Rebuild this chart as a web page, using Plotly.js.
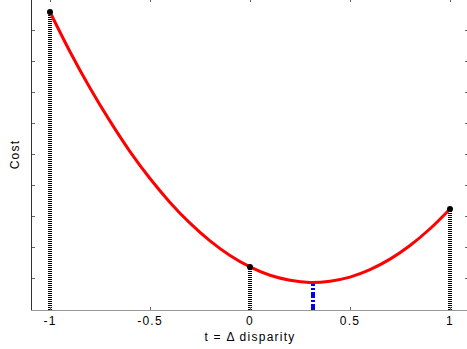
<!DOCTYPE html>
<html>
<head>
<meta charset="utf-8">
<script src="https://cdn.plot.ly/plotly-3.0.1.min.js"></script>
<style>
html,body{margin:0;padding:0;overflow:hidden;background:#fff;width:467px;height:349px;}
#chart{position:absolute;left:0;top:-3px;width:472px;height:352px;}
#chart text{letter-spacing:1.25px;}
</style>
</head>
<body>
<div id="chart"></div>
<script>
// Curve samples
var tVals = [-1, -0.9, -0.8, -0.7, -0.6, -0.5, -0.4, -0.3, -0.2, -0.1, 0, 0.1, 0.2, 0.3, 0.4, 0.5, 0.6, 0.7, 0.8, 0.9, 1];
var costVals = [9.61, 8.33, 7.16, 6.09, 5.11, 4.24, 3.47, 2.80, 2.23, 1.76, 1.39, 1.12, 0.96, 0.89, 0.93, 1.06, 1.30, 1.64, 2.08, 2.62, 3.26];
// Sample points
var ptsT = [-1, 0, 1];
var ptsCost = [9.61, 1.39, 3.26];
// Minimum
var minT = 0.315;
var minCost = 0.89;
// Tick labels
var xTickVals = [-1, -0.5, 0, 0.5, 1];
var xTickText = ['-1', '-0.5', '0', '0.5', '1'];

var traces = [];
ptsT.forEach(function(t, i){
  traces.push({
    x: [t, t], y: [0, ptsCost[i]], mode: 'lines', type: 'scatter',
    line: {color: '#000', width: 4, dash: '1px,1px'}, hoverinfo: 'skip'
  });
});
traces.push({
  x: [minT, minT], y: [0, minCost], mode: 'lines', type: 'scatter',
  line: {color: '#0000ff', width: 4, dash: '6px,2px,2px,2px'}, hoverinfo: 'skip'
});
traces.push({
  x: tVals, y: costVals, mode: 'lines', type: 'scatter',
  line: {color: '#ff0000', width: 3, shape: 'spline'}
});
traces.push({
  x: ptsT, y: ptsCost, mode: 'markers', type: 'scatter',
  marker: {color: '#000', size: 6}
});

var layout = {
  width: 472, height: 352,
  margin: {l: 32, r: 4, t: 2, b: 39, pad: 0},
  showlegend: false,
  paper_bgcolor: '#fff', plot_bgcolor: '#fff',
  font: {family: 'Liberation Sans, Arial, sans-serif', color: '#000'},
  xaxis: {
    range: [-1.09, 1.09], tickvals: xTickVals, ticktext: xTickText,
    ticks: 'inside', ticklen: 3, tickcolor: '#666', tickwidth: 1,
    showline: true, linecolor: '#999', linewidth: 1, mirror: 'ticks',
    showgrid: false, zeroline: false,
    tickfont: {size: 12},
    title: {text: 't = \u0394 disparity', font: {size: 12}, standoff: 5}
  },
  yaxis: {
    range: [0, 10.03], dtick: 1, tick0: 0, showticklabels: false,
    ticks: 'inside', ticklen: 3, tickcolor: '#666', tickwidth: 1,
    showline: true, linecolor: '#333', linewidth: 1, mirror: 'ticks',
    showgrid: false, zeroline: false,
    title: {text: 'Cost', font: {size: 12}, standoff: 8}
  }
};

Plotly.newPlot('chart', traces, layout, {displayModeBar: false, staticPlot: true});
</script>
</body>
</html>
